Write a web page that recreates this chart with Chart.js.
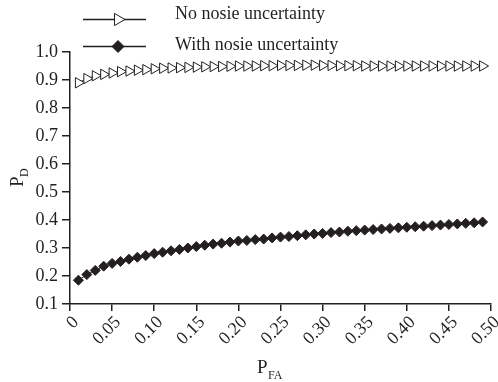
<!DOCTYPE html>
<html>
<head>
<meta charset="utf-8">
<style>
  html, body { margin: 0; padding: 0; background: #fff; }
  #wrap { width: 498px; height: 382px; }
</style>
</head>
<body>
<div id="wrap"><canvas id="pdChart"></canvas></div>

<script src="https://cdn.jsdelivr.net/npm/chart.js"></script>
<script>
  // P_FA values of the markers
  const pfa = [];
  for (let i = 1; i <= 49; i++) pfa.push(i / 100);

  const noUncertainty = [
    0.890, 0.905, 0.915, 0.920, 0.925, 0.930, 0.932, 0.935, 0.937, 0.940,
    0.942, 0.943, 0.944, 0.945, 0.946, 0.947, 0.948, 0.948, 0.949, 0.950,
    0.950, 0.950, 0.951, 0.951, 0.952, 0.952, 0.952, 0.953, 0.953, 0.952,
    0.952, 0.951, 0.951, 0.951, 0.950, 0.950, 0.950, 0.950, 0.950, 0.950,
    0.950, 0.950, 0.950, 0.950, 0.950, 0.950, 0.950, 0.950, 0.950
  ];

  const withUncertainty = [
    0.185, 0.205, 0.220, 0.235, 0.245, 0.252, 0.260, 0.267, 0.273, 0.280,
    0.285, 0.290, 0.295, 0.300, 0.305, 0.310, 0.314, 0.317, 0.321, 0.325,
    0.327, 0.330, 0.332, 0.336, 0.339, 0.341, 0.344, 0.347, 0.350, 0.352,
    0.355, 0.357, 0.360, 0.362, 0.364, 0.366, 0.368, 0.370, 0.372, 0.374,
    0.376, 0.378, 0.380, 0.382, 0.384, 0.386, 0.388, 0.390, 0.393
  ];

  const xTickLabels = ['0', '0.05', '0.10', '0.15', '0.20', '0.25', '0.30', '0.35', '0.40', '0.45', '0.50'];
  const yTickLabels = ['0.1', '0.2', '0.3', '0.4', '0.5', '0.6', '0.7', '0.8', '0.9', '1.0'];

  const INK = '#231f20';
  const SERIF = '"Liberation Serif", "DejaVu Serif", serif';

  function toPoints(ys) {
    return ys.map(function (y, i) { return { x: pfa[i], y: y }; });
  }

  // legend with line + marker, and axis titles with subscripts
  const decorations = {
    id: 'decorations',
    afterDraw(chart) {
      const ctx = chart.ctx;
      const rows = [{ line: 19.5, text: 14 }, { line: 46.5, text: 45 }];
      ctx.save();
      chart.data.datasets.forEach(function (ds, i) {
        const y = rows[i].line;
        ctx.strokeStyle = INK;
        ctx.lineWidth = 1.5;
        ctx.beginPath();
        ctx.moveTo(83, y);
        ctx.lineTo(146, y);
        ctx.stroke();
        ctx.fillStyle = ds.pointBackgroundColor;
        ctx.strokeStyle = INK;
        ctx.lineWidth = 1;
        Chart.helpers.drawPoint(ctx, {
          pointStyle: ds.pointStyle,
          rotation: ds.pointRotation,
          radius: ds.pointRadius + 1,
          borderWidth: 1
        }, 118, y);
        ctx.fillStyle = INK;
        ctx.font = '18px ' + SERIF;
        ctx.textAlign = 'left';
        ctx.textBaseline = 'middle';
        ctx.fillText(ds.label, 175, rows[i].text);
      });

      // x title P_FA
      ctx.fillStyle = INK;
      ctx.textBaseline = 'alphabetic';
      ctx.font = '19px ' + SERIF;
      ctx.textAlign = 'left';
      ctx.fillText('P', 257, 373);
      ctx.font = '12px ' + SERIF;
      ctx.fillText('FA', 268, 379);

      // y title P_D
      ctx.translate(23, 187);
      ctx.rotate(-Math.PI / 2);
      ctx.font = '19px ' + SERIF;
      ctx.fillText('P', 0, 0);
      ctx.font = '12px ' + SERIF;
      ctx.fillText('D', 10, 5);
      ctx.restore();
    }
  };

  const ctx = document.getElementById('pdChart');
  const pdChart = new Chart(ctx, {
    type: 'line',
    plugins: [decorations],
    data: {
      datasets: [
        {
          label: 'No nosie uncertainty',
          data: toPoints(noUncertainty),
          borderColor: INK,
          borderWidth: 1,
          pointStyle: 'triangle',
          pointRotation: 90,
          pointRadius: 6,
          pointBorderWidth: 1,
          pointBorderColor: INK,
          pointBackgroundColor: '#ffffff',
          tension: 0
        },
        {
          label: 'With nosie uncertainty',
          data: toPoints(withUncertainty),
          borderColor: INK,
          borderWidth: 1,
          pointStyle: 'rectRot',
          pointRotation: 0,
          pointRadius: 5,
          pointBorderWidth: 1,
          pointBorderColor: INK,
          pointBackgroundColor: INK,
          tension: 0
        }
      ]
    },
    options: {
      responsive: true,
      maintainAspectRatio: false,
      animation: false,
      events: [],
      layout: { padding: { top: 52, right: 6, left: 0, bottom: 0 } },
      plugins: {
        legend: { display: false },
        tooltip: { enabled: false }
      },
      scales: {
        x: {
          type: 'linear',
          min: 0,
          max: 0.5,
          afterFit: function (scale) {
            scale.height = 78;
            scale.paddingLeft = 0;
            scale.paddingRight = 0;
          },
          border: { color: INK, width: 1.5 },
          grid: { drawOnChartArea: false, drawTicks: true, tickLength: 7, color: INK, lineWidth: 1.5 },
          afterBuildTicks: function (scale) {
            scale.ticks = xTickLabels.map(function (t, i) { return { value: i * 0.05 }; });
          },
          ticks: {
            color: INK,
            font: { family: SERIF, size: 18 },
            maxRotation: 45,
            minRotation: 45,
            padding: 1,
            labelOffset: 6,
            autoSkip: false,
            callback: function (v, i) { return xTickLabels[i]; }
          }
        },
        y: {
          min: 0.1,
          max: 1.0,
          afterFit: function (scale) {
            scale.width = 70;
            scale.paddingTop = 0;
            scale.paddingBottom = 0;
          },
          border: { color: INK, width: 1.5 },
          grid: { drawOnChartArea: false, drawTicks: true, tickLength: 8, color: INK, lineWidth: 1.5 },
          afterBuildTicks: function (scale) {
            scale.ticks = yTickLabels.map(function (t, i) { return { value: 0.1 + i * 0.1 }; });
          },
          ticks: {
            color: INK,
            font: { family: SERIF, size: 18 },
            padding: 4,
            callback: function (v, i) { return yTickLabels[i]; }
          }
        }
      }
    }
  });
</script>
</body>
</html>
